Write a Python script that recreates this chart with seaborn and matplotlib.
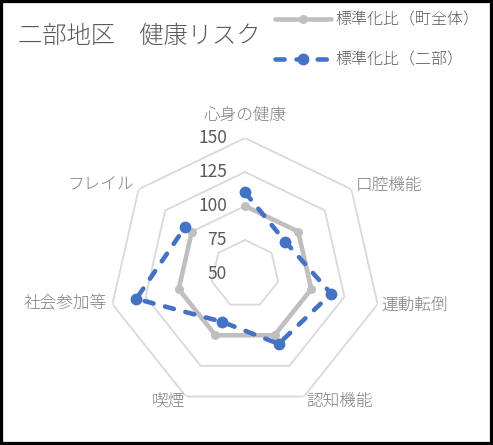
import matplotlib
matplotlib.use("Agg")
import matplotlib.pyplot as plt
import numpy as np
import pandas as pd
import seaborn as sns
from matplotlib.patches import Rectangle

categories = ["心身の健康", "口腔機能", "運動転倒", "認知機能", "喫煙", "社会参加等", "フレイル"]
town_values = [100, 100, 100, 100, 100, 100, 100]
nibu_values = [110, 88, 115, 107, 89, 132, 106]
ring_ticks = [50, 75, 100, 125, 150]
series_names = ["標準化比（町全体）", "標準化比（二部）"]
title = "二部地区　健康リスク"

sns.set_theme(style="white")
plt.rcParams["font.family"] = ["Noto Sans CJK JP", "DejaVu Sans"]
plt.rcParams["font.weight"] = "light"

TEXT = "#595959"
GRID = "#D9D9D9"
GRAY = "#BFBFBF"
BLUE = "#4472C4"

n = len(categories)
theta = np.linspace(0, 2 * np.pi, n, endpoint=False)
theta_closed = np.append(theta, theta[0])

df = pd.DataFrame({"theta": theta, "town": town_values, "nibu": nibu_values})
closed = pd.concat([df, df.iloc[[0]]], ignore_index=True)

W, H = 493, 445
fig = plt.figure(figsize=(W / 100, H / 100), dpi=100)
cx, cy, R = 245, 274, 136
ax = fig.add_axes([(cx - R) / W, (H - cy - R) / H, 2 * R / W, 2 * R / H], projection="polar")
ax.set_theta_offset(np.pi / 2)
ax.set_theta_direction(-1)
ax.set_ylim(ring_ticks[0], ring_ticks[-1])
ax.set_xticks([])
ax.set_yticks([])
ax.grid(False)
ax.spines["polar"].set_visible(False)
ax.patch.set_alpha(0)

# heptagon gridlines
for r in ring_ticks[1:]:
    ax.plot(theta_closed, [r] * (n + 1), color=GRID, lw=1.3, zorder=1)

sns.lineplot(x=closed["theta"], y=closed["town"], sort=False, ax=ax, color=GRAY, lw=3.3,
             marker="o", markersize=6.5, markeredgewidth=0, markeredgecolor=GRAY,
             label=series_names[0], zorder=3, legend=False)
sns.lineplot(x=closed["theta"], y=closed["nibu"], sort=False, ax=ax, color=BLUE, lw=3.3,
             linestyle=(0, (2.0, 2.6)), dash_capstyle="round",
             marker="o", markersize=8.5, markeredgewidth=0, markeredgecolor=BLUE,
             label=series_names[1], zorder=4, legend=False)
ax.set_xlabel("")
ax.set_ylabel("")

# radial tick labels
for r in ring_ticks:
    ax.annotate(str(r), (0, r), xytext=(-18, 0), textcoords="offset pixels",
                ha="right", va="center", fontsize=12.5, color=TEXT, weight="normal")

# category labels
offsets = [(0, 14, "center", "bottom"), (4, 4, "left", "center"), (4, -2, "left", "center"),
           (2, -5, "left", "center"), (-1, -5, "right", "center"), (-6, 0, "right", "center"),
           (-5, 4, "right", "center")]
for t, lab, (dx, dy, ha, va) in zip(theta, categories, offsets):
    ax.annotate(lab, (t, ring_ticks[-1]), xytext=(dx, dy), textcoords="offset pixels",
                ha=ha, va=va, fontsize=12, color="#7F7F7F")

fig.text(18 / W, 1 - 36 / H, title, ha="left", va="center", fontsize=17.5, color=TEXT)

handles, labels = ax.get_legend_handles_labels()
fig.legend(handles, labels, loc="upper left", bbox_to_anchor=(275 / W, 1 - 12 / H),
           frameon=False, fontsize=11.5, labelcolor=TEXT, handlelength=3.5,
           handletextpad=0.3, labelspacing=1.4, borderpad=0, borderaxespad=0)

fig.patches.append(Rectangle((0, 0), 1, 1, transform=fig.transFigure, fill=False,
                             edgecolor="black", lw=4.5, figure=fig))

fig.savefig("out.png", dpi=100)
